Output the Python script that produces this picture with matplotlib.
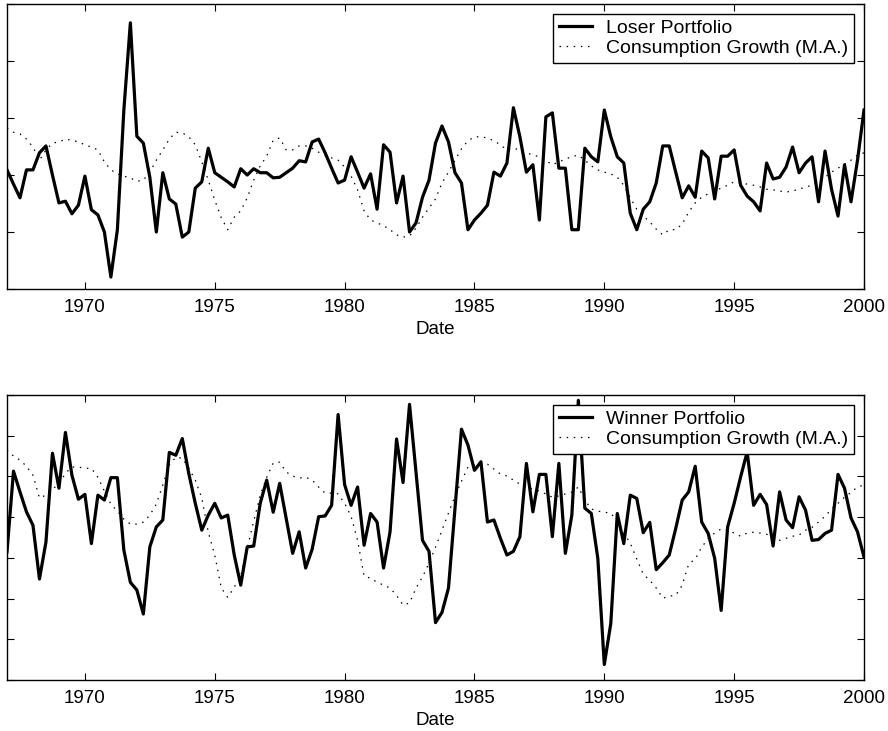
import numpy as np
import matplotlib
matplotlib.use('Agg')
import matplotlib.pyplot as plt

plt.rcParams['font.family'] = ['Liberation Sans', 'DejaVu Sans']

# quarterly observations, 1967Q1 .. 2000Q1
dates = 1967 + np.arange(133) / 4.0

loser = [0.09, -0.16, -0.40, 0.09, 0.09, 0.39, 0.51, 0.00, -0.49, -0.46,
         -0.68, -0.53, -0.02, -0.61, -0.70, -1.00, -1.79, -0.96, 1.14, 2.67,
         0.68, 0.56, -0.04, -1.00, 0.04, -0.42, -0.51, -1.09, -1.00, -0.23,
         -0.12, 0.47, 0.04, -0.04, -0.12, -0.21, 0.11, 0.00, 0.11, 0.04,
         0.04, -0.05, -0.04, 0.04, 0.12, 0.25, 0.23, 0.58, 0.63, 0.39,
         0.12, -0.14, -0.09, 0.32, 0.05, -0.23, 0.02, -0.60, 0.53, 0.40,
         -0.49, -0.02, -1.00, -0.84, -0.39, -0.09, 0.56, 0.86, 0.58, 0.04,
         -0.14, -0.96, -0.79, -0.67, -0.53, 0.05, -0.02, 0.21, 1.18, 0.67,
         0.05, 0.18, -0.79, 1.02, 1.09, 0.12, 0.12, -0.96, -0.96, 0.47,
         0.32, 0.23, 1.14, 0.67, 0.32, 0.21, -0.67, -0.96, -0.60, -0.47,
         -0.14, 0.51, 0.51, 0.05, -0.40, -0.19, -0.39, 0.42, 0.30, -0.42,
         0.33, 0.33, 0.44, -0.18, -0.37, -0.47, -0.63, 0.21, -0.07, -0.04,
         0.14, 0.49, 0.04, 0.21, 0.32, -0.47, 0.42, -0.25, -0.72, 0.18,
         -0.47, 0.26, 1.14]

cg_top = [0.82, 0.75, 0.72, 0.63, 0.49, 0.26, 0.44, 0.56, 0.58, 0.63,
          0.61, 0.58, 0.53, 0.49, 0.44, 0.23, 0.09, 0.02, -0.02, -0.05,
          -0.11, -0.09, 0.05, 0.26, 0.44, 0.63, 0.75, 0.74, 0.67, 0.53,
          0.23, -0.09, -0.44, -0.75, -0.96, -0.74, -0.63, -0.40, -0.09, 0.16,
          0.33, 0.61, 0.65, 0.44, 0.44, 0.51, 0.51, 0.47, 0.40, 0.35,
          0.30, 0.26, 0.14, -0.02, -0.26, -0.63, -0.79, -0.84, -0.89, -0.96,
          -1.05, -1.09, -1.07, -0.93, -0.74, -0.58, -0.42, -0.14, 0.05, 0.26,
          0.46, 0.60, 0.67, 0.67, 0.65, 0.60, 0.53, 0.44, 0.47, 0.44,
          0.39, 0.35, 0.32, 0.25, 0.18, 0.23, 0.28, 0.32, 0.35, 0.26,
          0.16, 0.09, 0.05, 0.02, -0.04, -0.18, -0.40, -0.60, -0.72, -0.82,
          -0.95, -1.05, -0.96, -0.96, -0.86, -0.65, -0.49, -0.39, -0.33, -0.28,
          -0.23, -0.18, -0.12, -0.14, -0.16, -0.18, -0.21, -0.25, -0.26, -0.28,
          -0.30, -0.28, -0.25, -0.21, -0.18, -0.12, -0.04, 0.05, 0.12, 0.19,
          0.26, 0.35, 0.39]

winner = [0.15, 2.13, 1.62, 1.13, 0.80, -0.52, 0.39, 2.57, 1.71, 3.08,
          2.03, 1.44, 1.56, 0.35, 1.54, 1.42, 1.97, 1.97, 0.19, -0.60,
          -0.79, -1.38, 0.27, 0.76, 0.93, 2.59, 2.52, 2.93, 2.07, 1.34,
          0.68, 1.05, 1.34, 0.98, 1.05, 0.07, -0.67, 0.27, 0.29, 1.34,
          1.91, 1.12, 1.83, 0.97, 0.11, 0.64, -0.25, 0.21, 1.01, 1.03,
          1.29, 3.52, 1.80, 1.29, 1.74, 0.31, 1.09, 0.88, -0.25, 0.64,
          2.92, 1.85, 3.77, 2.11, 0.43, 0.16, -1.59, -1.34, -0.74, 1.21,
          3.16, 2.77, 2.15, 2.36, 0.88, 0.93, 0.48, 0.07, 0.16, 0.52,
          2.32, 1.13, 2.05, 2.05, 0.52, 2.32, 0.11, 1.05, 3.87, 1.22,
          1.09, -0.01, -2.62, -1.61, 1.09, 0.35, 1.54, 1.46, 0.62, 0.87,
          -0.29, -0.12, 0.07, 0.72, 1.42, 1.62, 2.25, 0.88, 0.60, -0.01,
          -1.29, 0.76, 1.34, 1.99, 2.60, 1.29, 1.56, 1.31, 0.29, 1.62,
          0.93, 0.74, 1.50, 1.17, 0.43, 0.45, 0.60, 0.68, 2.05, 1.71,
          0.98, 0.64, 0.02]

cg_bottom = [2.65, 2.50, 2.40, 2.25, 2.03, 1.47, 1.54, 1.69, 1.81, 2.08,
             2.23, 2.23, 2.20, 2.20, 1.98, 1.64, 1.32, 1.15, 0.95, 0.83,
             0.83, 0.88, 1.05, 1.32, 1.79, 2.28, 2.47, 2.45, 2.20, 1.91,
             1.47, 0.63, 0.07, -0.74, -0.97, -0.72, -0.45, 0.24, 0.90, 1.54,
             1.98, 2.33, 2.35, 2.11, 2.01, 1.96, 1.98, 1.91, 1.74, 1.59,
             1.59, 1.57, 1.34, 1.02, 0.43, -0.45, -0.50, -0.60, -0.67, -0.74,
             -0.92, -1.16, -1.11, -0.74, -0.47, -0.13, 0.26, 0.68, 1.10, 1.52,
             1.88, 2.23, 2.28, 2.28, 2.30, 2.18, 2.06, 2.01, 1.91, 1.81,
             1.74, 1.69, 1.64, 1.57, 1.49, 1.52, 1.57, 1.61, 1.74, 1.42,
             1.20, 1.15, 1.12, 1.10, 0.90, 0.61, 0.36, -0.03, -0.40, -0.55,
             -0.74, -0.99, -0.94, -0.92, -0.67, -0.15, -0.03, 0.26, 0.48, 0.61,
             0.71, 0.68, 0.61, 0.53, 0.61, 0.63, 0.61, 0.58, 0.51, 0.43,
             0.48, 0.53, 0.56, 0.68, 0.75, 0.88, 1.02, 1.20, 1.34, 1.49,
             1.61, 1.74, 1.79]

panels = [
    (loser, cg_top, 'Loser Portfolio', (-2, 3)),
    (winner, cg_bottom, 'Winner Portfolio', (-3, 4)),
]
xticks = [1970, 1975, 1980, 1985, 1990, 1995, 2000]
fs = 13.5

fig = plt.figure(figsize=(8.88, 7.31), dpi=100)
ax1 = fig.add_axes([7/888, 1-289/731, 857/888, 285/731])
ax2 = fig.add_axes([7/888, 1-680/731, 857/888, 285/731])

for ax, (port, cg, name, ylim) in zip([ax1, ax2], panels):
    ax.plot(dates, port, color='black', lw=2.3, label=name)
    ax.plot(dates, cg, color='black', lw=0.9, linestyle=(0, (1.2, 4.5)),
            label='Consumption Growth (M.A.)')
    ax.set_xlim(1967, 2000)
    ax.set_ylim(*ylim)
    ax.set_xticks(xticks)
    ax.set_yticks(np.arange(ylim[0], ylim[1] + 1))
    ax.set_yticklabels([])
    ax.tick_params(direction='in', top=True, right=True, length=5, width=0.8,
                   labelsize=fs, pad=7)
    for s in ax.spines.values():
        s.set_linewidth(1.0)
    ax.set_xlabel('Date', fontsize=fs, labelpad=4)
    leg = ax.legend(loc='upper right', fontsize=14, fancybox=False,
                    framealpha=1, edgecolor='black', borderaxespad=0.5,
                    handlelength=1.7, borderpad=0.3, labelspacing=0.1,
                    handletextpad=0.75)
    leg.get_frame().set_linewidth(1.0)

fig.savefig('out.png', dpi=100)
